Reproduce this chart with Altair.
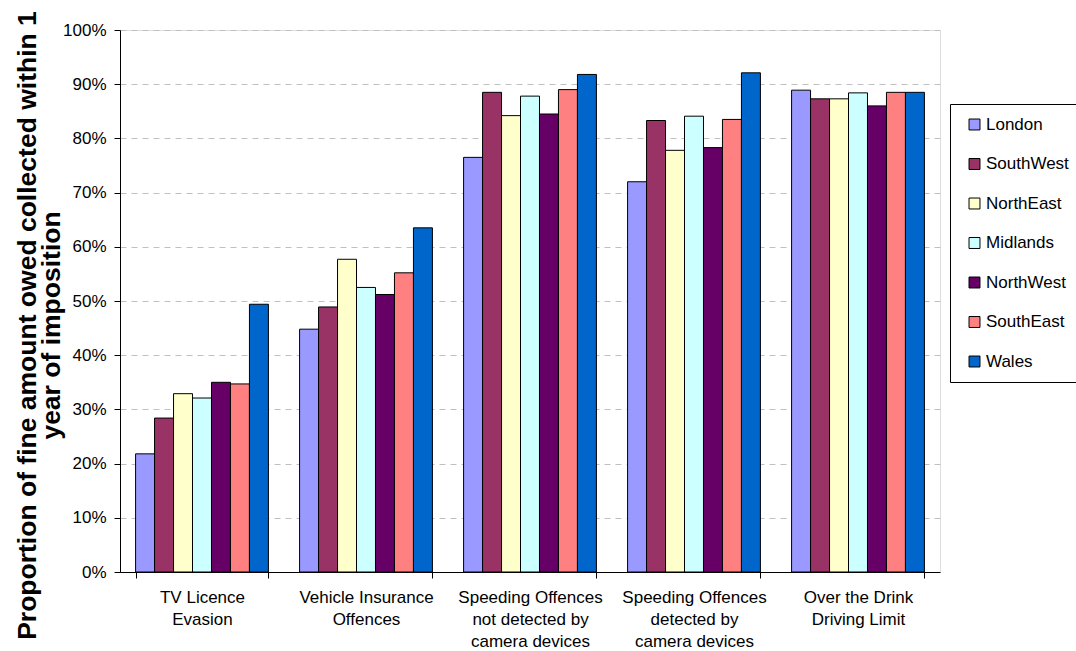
import altair as alt
import pandas as pd

categories = [
    "TV Licence|Evasion",
    "Vehicle Insurance|Offences",
    "Speeding Offences|not detected by|camera devices",
    "Speeding Offences|detected by|camera devices",
    "Over the Drink|Driving Limit",
]
regions = ["London", "SouthWest", "NorthEast", "Midlands", "NorthWest", "SouthEast", "Wales"]
colors = ["#9999FF", "#993366", "#FFFFCC", "#CCFFFF", "#660066", "#FF8080", "#0066CC"]

london    = [0.218, 0.448, 0.765, 0.720, 0.889]
southwest = [0.284, 0.489, 0.885, 0.833, 0.873]
northeast = [0.329, 0.577, 0.842, 0.778, 0.873]
midlands  = [0.321, 0.525, 0.878, 0.841, 0.884]
northwest = [0.350, 0.512, 0.845, 0.783, 0.860]
southeast = [0.347, 0.552, 0.890, 0.835, 0.885]
wales     = [0.494, 0.635, 0.918, 0.921, 0.885]

series = [london, southwest, northeast, midlands, northwest, southeast, wales]
rows = []
for r, vals in zip(regions, series):
    for c, v in zip(categories, vals):
        rows.append({"category": c, "region": r, "value": v})
df = pd.DataFrame(rows)

font = "Liberation Sans"

chart = alt.Chart(df).mark_bar(stroke="black", strokeWidth=1).encode(
    x=alt.X("category:N", sort=categories,
            scale=alt.Scale(paddingInner=0.19, paddingOuter=0.095),
            axis=alt.Axis(title=None, labelAngle=0, labelExpr="split(datum.label, '|')",
                          labelFont=font, labelFontSize=17, labelColor="black",
                          labelLineHeight=22, labelPadding=11, labelBaseline="top",
                          tickBand="extent", tickSize=6, tickColor="black",
                          domainColor="black", grid=False)),
    xOffset=alt.XOffset("region:N", sort=regions, scale=alt.Scale(paddingInner=0, paddingOuter=0)),
    y=alt.Y("value:Q", scale=alt.Scale(domain=[0, 1]),
            axis=alt.Axis(format=".0%", values=[i / 10 for i in range(11)],
                          title=["Proportion of fine amount owed collected within 1", "year of imposition"],
                          titleFont=font, titleFontSize=26.5, titleFontWeight="bold",
                          titleColor="black", titleLineHeight=24,
                          titleX=-93, titleY=295, titleBaseline="middle", titleAngle=270,
                          labelFont=font, labelFontSize=17, labelColor="black", labelPadding=8,
                          tickSize=6, tickColor="black", domainColor="black",
                          grid=True, gridColor="#c0c0c0", gridDash=[6, 5], gridWidth=1)),
    color=alt.Color("region:N", sort=regions,
                    scale=alt.Scale(domain=regions, range=colors),
                    legend=alt.Legend(title=None, orient="none", legendX=830, legendY=74,
                                      symbolType="square", symbolSize=120,
                                      symbolStrokeColor="black", symbolStrokeWidth=1,
                                      symbolOffset=4,
                                      labelFont=font, labelFontSize=17, labelColor="black",
                                      rowPadding=21.5, padding=12, strokeColor="black",
                                      fillColor="white", labelOffset=3)),
).properties(
    width=820, height=542,
    autosize=alt.AutoSizeParams(type="none"),
    padding={"left": 120, "top": 30, "right": 136, "bottom": 79},
).configure_view(stroke=None).configure(background="white")

chart.save("out.html", embed_options={"renderer": "svg", "actions": False})
